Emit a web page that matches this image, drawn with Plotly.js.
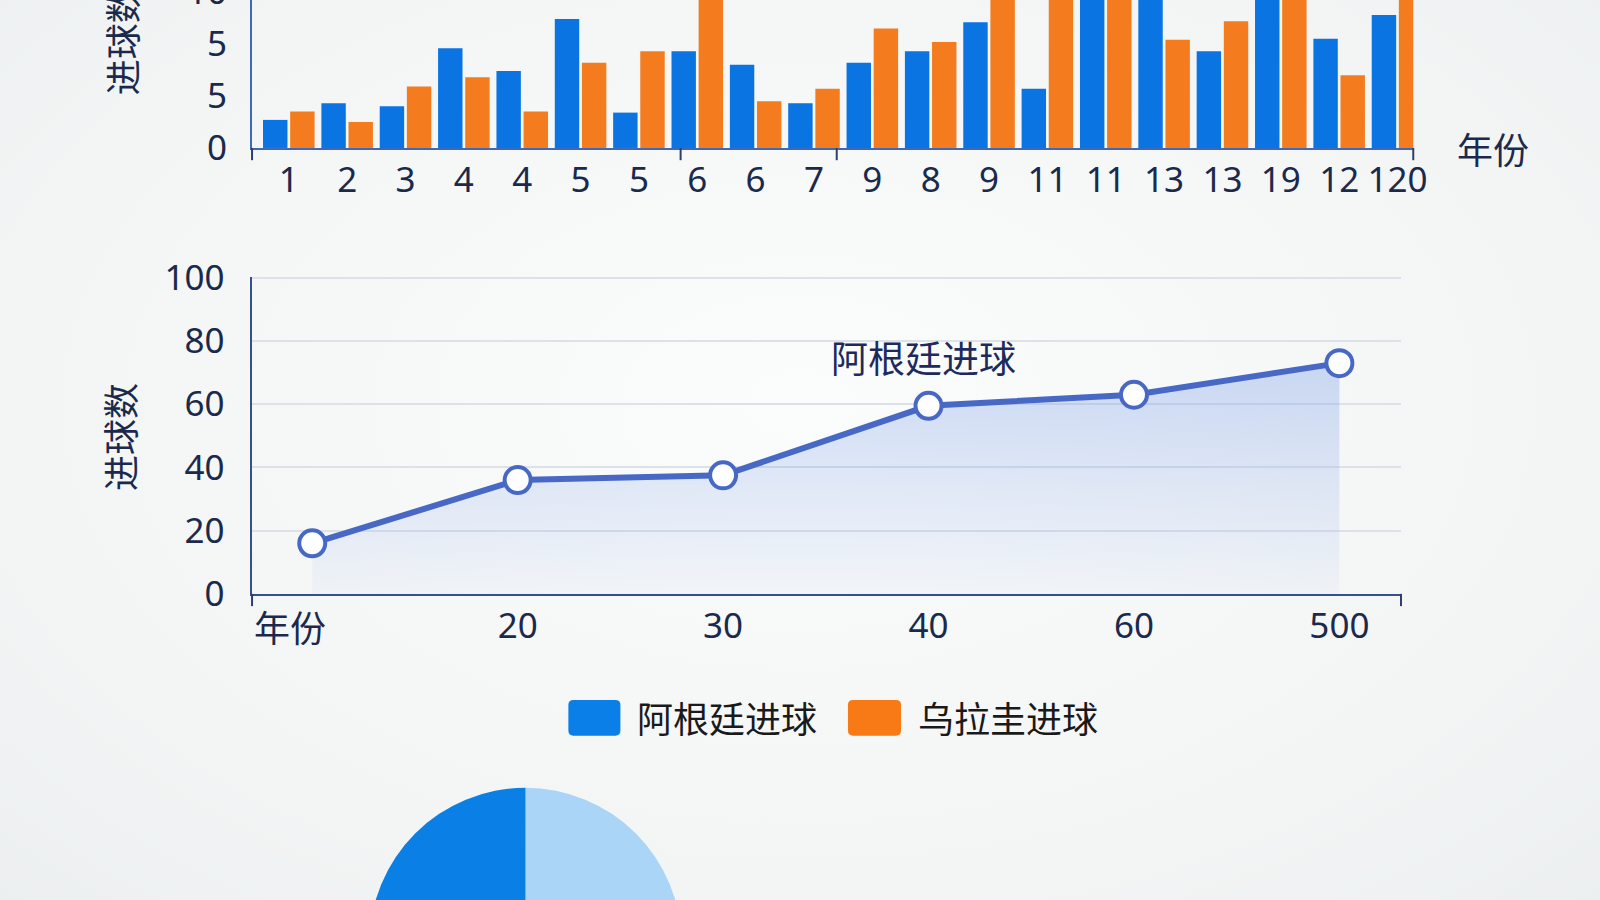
<!DOCTYPE html>
<html>
<head>
<meta charset="utf-8">
<script src="https://cdn.plot.ly/plotly-3.0.1.min.js"></script>
<style>
  html, body { margin:0; padding:0; width:1600px; height:900px; overflow:hidden;
    background: radial-gradient(ellipse at 50% 45%, #fbfcfc 0%, #f3f5f5 70%, #eceff0 100%); }
  #chart { position:absolute; left:0; top:-100px; width:1600px; height:1200px; }
</style>
</head>
<body>
<div id="chart"></div>
<script>
// ---------- data ----------
const seriesNames = ["阿根廷进球", "乌拉圭进球"];
const barLabels = ["1","2","3","4","4","5","5","6","6","7","9","8","9","11","11","13","13","19","12","120"];
const argentinaBar = [2.7, 4.3, 4.0, 9.6, 7.4, 12.4, 3.4, 9.3, 8.0, 4.3, 8.2, 9.3, 12.1, 5.7, 14.4, 16, 9.3, 16, 10.5, 12.8];
const uruguayBar   = [3.5, 2.5, 5.9, 6.8, 3.5, 8.2, 9.3, 16, 4.5, 5.7, 11.5, 10.2, 16, 16, 14.4, 10.4, 12.2, 16, 7.0, 16];
const barTickVals = [0, 5, 10, 15];
const barTickText = ["0", "5", "5", "10"];

const lineX = ["年份", "20", "30", "40", "60", "500"];
const lineY = [16, 36, 37.5, 59.5, 63, 73];
const lineTickVals = [0, 20, 40, 60, 80, 100];

const pieLabels = ["阿根廷进球 A", "阿根廷进球 B"];
const pieValues = [50, 50];

const xTitle = "年份";
const yTitle = "进球数";

// ---------- layout helpers (reference pixels -> paper fractions) ----------
const W = 1600, H = 1200, OFF = 100, S = 1600 / 1568;
const px = x => (x * S) / W;
const py = y => 1 - (y * S + OFF) / H;

const BLUE = "#0a74e2", ORANGE = "#f47b1e";
const NAVY = "#1b2a4c";
const FONT = "Noto Sans, Noto Sans CJK SC, sans-serif";
const CJK = "Noto Sans CJK SC, Noto Sans, sans-serif";

function roundRect(x0, y0, x1, y1, r) {
  const X0 = px(x0), X1 = px(x1), Y0 = py(y1), Y1 = py(y0);
  const rx = px(r), ry = (r * S) / H;
  return `M${X0 + rx},${Y0} L${X1 - rx},${Y0} Q${X1},${Y0} ${X1},${Y0 + ry} L${X1},${Y1 - ry} ` +
         `Q${X1},${Y1} ${X1 - rx},${Y1} L${X0 + rx},${Y1} Q${X0},${Y1} ${X0},${Y1 - ry} ` +
         `L${X0},${Y0 + ry} Q${X0},${Y0} ${X0 + rx},${Y0} Z`;
}

const barIdx = barLabels.map((_, i) => i);

const traces = [
  { type: "bar", x: barIdx, y: argentinaBar, name: seriesNames[0], xaxis: "x", yaxis: "y",
    marker: { color: BLUE }, showlegend: false, hoverinfo: "y" },
  { type: "bar", x: barIdx, y: uruguayBar, name: seriesNames[1], xaxis: "x", yaxis: "y",
    marker: { color: ORANGE }, showlegend: false, hoverinfo: "y" },
  { type: "scatter", mode: "lines+markers", x: lineX, y: lineY, name: seriesNames[0],
    xaxis: "x2", yaxis: "y2", showlegend: false,
    line: { color: "#4868c6", width: 6 },
    marker: { size: 26, color: "#ffffff", line: { color: "#4868c6", width: 4 } },
    fill: "tozeroy",
    fillgradient: { type: "vertical",
      colorscale: [[0, "rgba(120,155,230,0.05)"], [1, "rgba(110,150,230,0.34)"]] } },
  { type: "pie", labels: pieLabels, values: pieValues, sort: false, direction: "clockwise",
    rotation: 0, textinfo: "none", showlegend: false, hoverinfo: "label+value",
    marker: { colors: ["#aad5f6", "#0a80e6"] },
    domain: { x: [px(358), px(672)], y: [py(1086), py(772)] } }
];

const axisFont = { family: FONT, size: 35, color: NAVY };
const ann = (text, x, y, size, color, extra) => Object.assign({
  text, xref: "paper", yref: "paper", x: px(x), y: py(y), xanchor: "center", yanchor: "middle",
  showarrow: false, font: { family: CJK, size, color } }, extra || {});

const layout = {
  width: W, height: H,
  margin: { l: 0, r: 0, t: 0, b: 0 },
  paper_bgcolor: "rgba(0,0,0,0)",
  plot_bgcolor: "rgba(0,0,0,0)",
  font: { family: FONT, color: NAVY },
  barmode: "group", bargap: 0.07, bargroupgap: 0.1,
  xaxis: {
    domain: [px(247), px(1385)], anchor: "y",
    range: [-0.63, 19.27], tickvals: barIdx, ticktext: barLabels,
    tickfont: axisFont, showgrid: false, zeroline: false,
    showline: true, linecolor: "#3f68bd", linewidth: 2.5, ticks: "", ticklabelstandoff: 0
  },
  yaxis: {
    domain: [py(145), py(-18)], anchor: "x",
    range: [0, 16], tickvals: barTickVals, ticktext: barTickText,
    tickfont: axisFont, showgrid: false, zeroline: false,
    showline: true, linecolor: "#3f68bd", linewidth: 2, ticks: "", ticklabelstandoff: 16
  },
  xaxis2: {
    domain: [px(247), px(1373)], anchor: "y2",
    type: "category", range: [-0.293, 5.3],
    tickvals: lineX.slice(1), ticktext: lineX.slice(1),
    tickfont: axisFont, showgrid: false, zeroline: false,
    showline: true, linecolor: "#33508f", linewidth: 2.5, ticks: "", ticklabelstandoff: 0
  },
  yaxis2: {
    domain: [py(582), py(271)], anchor: "x2",
    range: [0, 100.4], tickvals: lineTickVals,
    tickfont: axisFont, showgrid: true, gridcolor: "#dde2ea", gridwidth: 2,
    zeroline: false, showline: true, linecolor: "#33508f", linewidth: 2.5,
    ticks: "", ticklabelstandoff: 18
  },
  shapes: [
    ...[247, 667, 820, 1385].map(x => ({ type: "line", xref: "paper", yref: "paper",
      x0: px(x), x1: px(x), y0: py(145), y1: py(157), line: { color: "#2e3f6e", width: 2 } })),
    ...[247, 1373].map(x => ({ type: "line", xref: "paper", yref: "paper",
      x0: px(x), x1: px(x), y0: py(582), y1: py(594), line: { color: "#2e3f6e", width: 2 } })),
    { type: "path", xref: "paper", yref: "paper", path: roundRect(557, 686, 608, 721, 5),
      fillcolor: "#0a7fe8", line: { width: 0 } },
    { type: "path", xref: "paper", yref: "paper", path: roundRect(831, 686, 883, 721, 5),
      fillcolor: "#f77a17", line: { width: 0 } }
  ],
  annotations: [
    ann(yTitle, 118, 40, 36, NAVY, { textangle: -90 }),
    ann(xTitle, 1463, 145, 36, NAVY),
    ann(yTitle, 116, 428, 36, NAVY, { textangle: -90 }),
    ann(lineX[0], 284, 613, 36, NAVY),
    ann(seriesNames[0], 905, 350, 37, "#1c2a5e"),
    ann(seriesNames[0], 622, 703, 36, "#1a1a1a", { xanchor: "left" }),
    ann(seriesNames[1], 898, 703, 36, "#1a1a1a", { xanchor: "left" })
  ]
};

Plotly.newPlot("chart", traces, layout, { displayModeBar: false, staticPlot: true });
</script>
</body>
</html>
